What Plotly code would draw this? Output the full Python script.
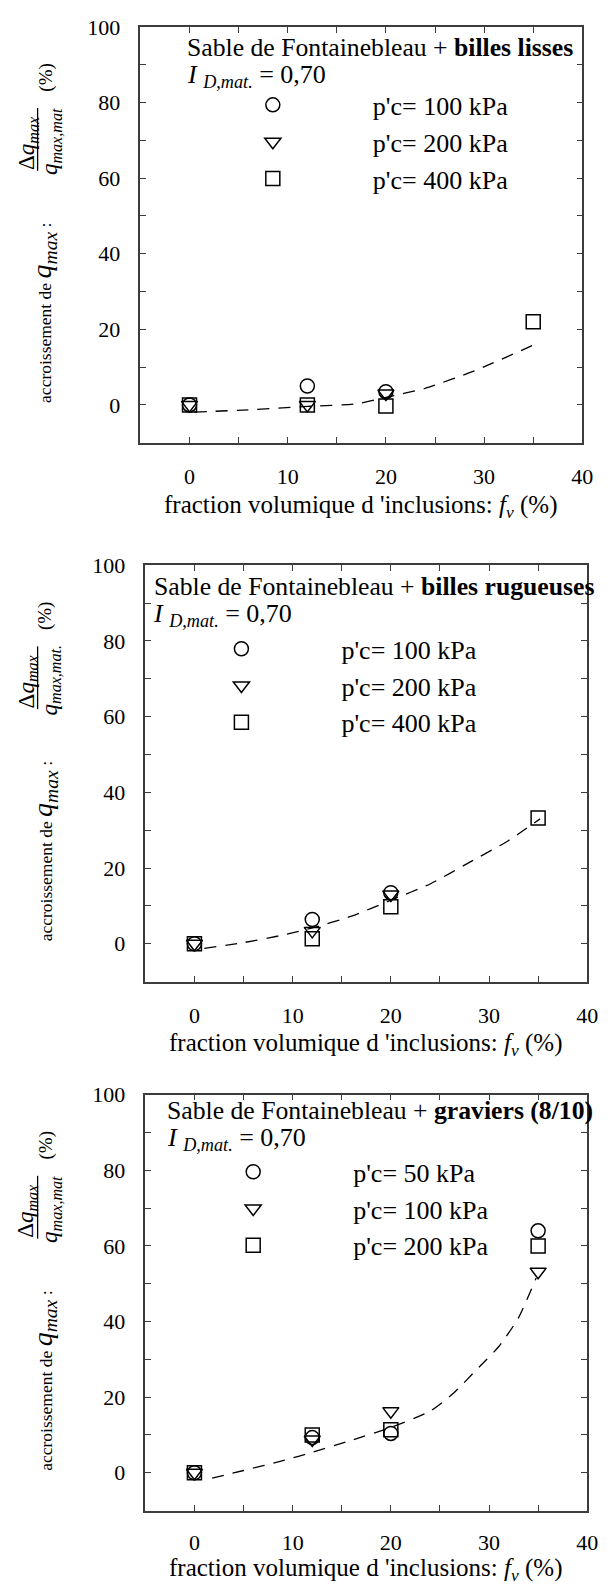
import plotly.graph_objects as go

W, H = 610, 1586
FONT = "Liberation Serif"

# ---------------- data ----------------
# Panel 1: Sable de Fontainebleau + billes lisses
p1_fv_100 = [0, 12, 20]
p1_dq_100 = [0, 5.0, 3.5]
p1_fv_200 = [0, 12, 20]
p1_dq_200 = [0, 0.0, 3.0]
p1_fv_400 = [0, 12, 20, 35]
p1_dq_400 = [0, 0.0, -0.3, 22.0]
p1_fit_fv = [0.5, 6, 12, 17, 20, 24, 29, 35.5]
p1_fit_dq = [-1.9, -1.3, -0.4, 0.3, 2.0, 4.4, 9.0, 16.4]
p1_labels = ["p'c= 100 kPa", "p'c= 200 kPa", "p'c= 400 kPa"]

# Panel 2: Sable de Fontainebleau + billes rugueuses
p2_fv_100 = [0, 12, 20]
p2_dq_100 = [0, 6.4, 13.5]
p2_fv_200 = [0, 12, 20]
p2_dq_200 = [0, 3.4, 13.0]
p2_fv_400 = [0, 12, 20, 35]
p2_dq_400 = [0, 1.3, 9.8, 33.2]
p2_fit_fv = [1, 5, 9, 12, 16, 20, 24, 28, 32, 35.2]
p2_fit_dq = [-1.2, 0.3, 2.3, 4.2, 7.3, 11.5, 15.8, 21.5, 27.3, 33.0]
p2_labels = ["p'c= 100 kPa", "p'c= 200 kPa", "p'c= 400 kPa"]

# Panel 3: Sable de Fontainebleau + graviers (8/10)
p3_fv_50 = [0, 12, 20, 35]
p3_dq_50 = [0, 9.3, 10.4, 64.0]
p3_fv_100 = [0, 12, 20, 35]
p3_dq_100 = [0, 8.8, 16.3, 53.2]
p3_fv_200 = [0, 12, 20, 35]
p3_dq_200 = [0, 10.0, 11.4, 60.0]
p3_fit_fv = [1.8, 5, 9, 12, 16, 20, 24, 26.4, 29, 31, 33, 34.8]
p3_fit_dq = [-1.4, 0.6, 3.2, 5.4, 8.6, 12.0, 16.3, 21.1, 28.0, 33.4, 41.0, 51.5]
p3_labels = ["p'c= 50 kPa", "p'c= 100 kPa", "p'c= 200 kPa"]

titles = [
    "Sable de Fontainebleau + <b>billes lisses</b>",
    "Sable de Fontainebleau + <b>billes rugueuses</b>",
    "Sable de Fontainebleau + <b>graviers (8/10)</b>",
]
denominators = ["max,mat", "max,mat.", "max,mat"]

x_tickvals = [0, 10, 20, 30, 40]
y_tickvals = [0, 20, 40, 60, 80, 100]

# ---------------- layout geometry (pixels) ----------------
boxes = [(143, 593, 15, 434), (148, 598, 557.5, 977), (148, 598, 1091, 1510)]
title_pos = [(188, 36), (155, 579), (168, 1106.5)]
id_pos = [(188, 64), (154, 608), (168, 1136)]
legend_pos = [(176, 70), (144, 618), (156, 1145)]
xtitle_off = [64, 63, 59.5]


def px(x):
    return x / W


def py(y):
    return 1 - y / H


fig = go.Figure()

panels = [
    [(p1_fv_100, p1_dq_100), (p1_fv_200, p1_dq_200), (p1_fv_400, p1_dq_400), (p1_fit_fv, p1_fit_dq), p1_labels],
    [(p2_fv_100, p2_dq_100), (p2_fv_200, p2_dq_200), (p2_fv_400, p2_dq_400), (p2_fit_fv, p2_fit_dq), p2_labels],
    [(p3_fv_50, p3_dq_50), (p3_fv_100, p3_dq_100), (p3_fv_200, p3_dq_200), (p3_fit_fv, p3_fit_dq), p3_labels],
]
symbols = ["circle-open", "triangle-down-open", "square-open"]

annotations = []
shapes = []
EDGE = "#3c3c3c"

for i, panel in enumerate(panels):
    k = "" if i == 0 else str(i + 1)
    xa, ya = "x" + k, "y" + k
    leg = "legend" + k
    s1, s2, s3, fit, labels = panel
    fig.add_trace(go.Scatter(
        x=fit[0], y=fit[1], mode="lines", xaxis=xa, yaxis=ya, showlegend=False,
        line=dict(color="black", width=1.3, dash="12px,9px", shape="spline", smoothing=0.6),
        hoverinfo="skip"))
    for (sx, sy), sym, lab in zip([s1, s2, s3], symbols, labels):
        fig.add_trace(go.Scatter(
            x=sx, y=sy, mode="markers", name=lab, xaxis=xa, yaxis=ya, legend=leg,
            marker=dict(symbol=sym, size=14, color="black", line=dict(color="black", width=1.5))))

    L, R, T, B = boxes[i]
    axcommon = dict(showline=True, mirror="ticks", linecolor=EDGE, linewidth=1.5,
                    ticks="inside", ticklen=6, tickwidth=1, tickcolor=EDGE,
                    showgrid=False, zeroline=False,
                    tickfont=dict(family=FONT, size=22, color="black"))
    fig.update_layout(**{
        "xaxis" + k: dict(domain=[px(L), px(R)], anchor=ya, range=[-5, 40],
                          tickmode="array", tickvals=x_tickvals,
                          minor=dict(tickvals=[5, 15, 25, 35], ticks="inside", ticklen=6,
                                     tickwidth=1, tickcolor=EDGE, showgrid=False),
                          ticklabelstandoff=13 if i < 2 else 11, **axcommon),
        "yaxis" + k: dict(domain=[py(B), py(T)], anchor=xa, range=[-10, 100],
                          tickmode="array", tickvals=y_tickvals,
                          minor=dict(tickvals=[10, 30, 50, 70, 90], ticks="inside", ticklen=6,
                                     tickwidth=1, tickcolor=EDGE, showgrid=False),
                          ticklabelstandoff=14, **axcommon),
        leg: dict(x=px(legend_pos[i][0]), y=py(legend_pos[i][1]), xanchor="left", yanchor="top",
                  xref="paper", yref="paper", bgcolor="rgba(0,0,0,0)", borderwidth=0,
                  itemwidth=190, font=dict(family=FONT, size=26, color="black"),
                  tracegroupgap=0),
    })

    tx, ty = title_pos[i]
    annotations.append(dict(x=px(tx), y=py(ty), xref="paper", yref="paper", xanchor="left",
                            yanchor="middle", showarrow=False, text=titles[i],
                            font=dict(family=FONT, size=25.7, color="black")))
    ix, iy = id_pos[i]
    annotations.append(dict(x=px(ix), y=py(iy), xref="paper", yref="paper", xanchor="left",
                            yanchor="middle", showarrow=False,
                            text="<i>I</i> <sub><i>D,mat.</i></sub> = 0,70",
                            font=dict(family=FONT, size=26, color="black")))
    # x-axis title
    annotations.append(dict(x=px((L + R) / 2 - 1), y=py(B + xtitle_off[i]), xref="paper", yref="paper",
                            xanchor="center", yanchor="middle", showarrow=False,
                            text="fraction volumique d 'inclusions: <i>f</i><sub><i>v</i></sub> (%)",
                            font=dict(family=FONT, size=25, color="black")))
    # y-axis title (rotated), with a stacked fraction
    annotations.append(dict(x=px(45), y=py(T + 288), xref="paper", yref="paper",
                            xanchor="center", yanchor="middle", showarrow=False, textangle=-90,
                            text="accroissement de <span style='font-size:28px'><i>q</i><sub><i>max</i></sub></span> :",
                            font=dict(family=FONT, size=17.5, color="black")))
    annotations.append(dict(x=px(28), y=py(T + 116.5), xref="paper", yref="paper",
                            xanchor="center", yanchor="middle", showarrow=False, textangle=-90,
                            text="Δ<i>q</i><sub><i>max</i></sub>",
                            font=dict(family=FONT, size=23, color="black")))
    annotations.append(dict(x=px(52), y=py(T + 116), xref="paper", yref="paper",
                            xanchor="center", yanchor="middle", showarrow=False, textangle=-90,
                            text="<i>q</i><sub><i>" + denominators[i] + "</i></sub>",
                            font=dict(family=FONT, size=23, color="black")))
    annotations.append(dict(x=px(46.5), y=py(T + 51.5), xref="paper", yref="paper",
                            xanchor="center", yanchor="middle", showarrow=False, textangle=-90,
                            text="(%)", font=dict(family=FONT, size=19, color="black")))
    shapes.append(dict(type="line", xref="paper", yref="paper",
                       x0=px(38.3), x1=px(38.3), y0=py(T + 81.7), y1=py(T + 145),
                       line=dict(color="black", width=1.3)))

fig.update_layout(width=W, height=H, margin=dict(l=0, r=0, t=0, b=0),
                  paper_bgcolor="white", plot_bgcolor="white", showlegend=True,
                  annotations=annotations, shapes=shapes,
                  font=dict(family=FONT, color="black"))

fig.write_html("out.html", config={"displayModeBar": False},
               post_script="document.body.style.margin='0';")
